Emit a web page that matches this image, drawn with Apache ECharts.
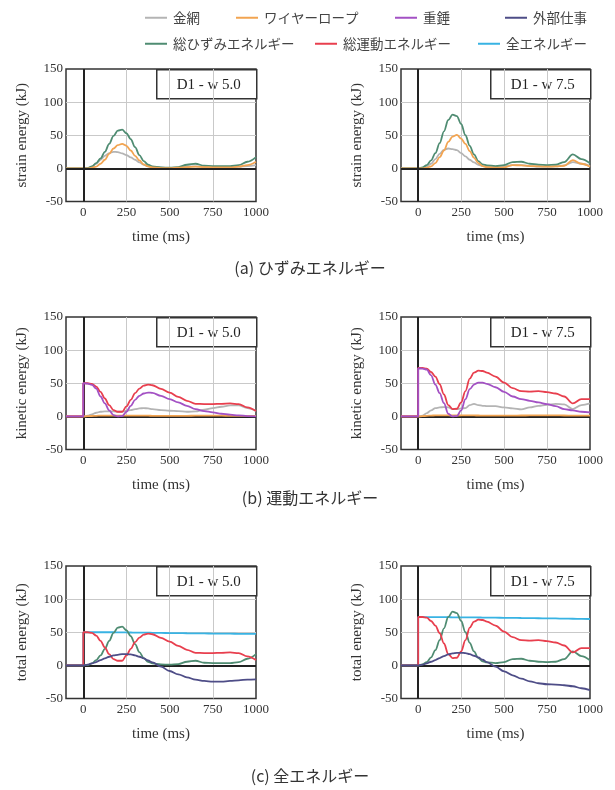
<!DOCTYPE html>
<html>
<head>
<meta charset="utf-8">
<script src="https://cdn.jsdelivr.net/npm/echarts@6/dist/echarts.min.js"></script>
<style>
  html, body { margin: 0; padding: 0; background: #fff; }
  #chart { width: 615px; height: 790px; }
</style>
</head>
<body>
<div id="chart"></div>
<script>
// Sample times (ms); 0 appears twice so the impact jump at t = 0 is vertical
const timeMs = [-100, 0, 0, 25, 50, 75, 100, 125, 150, 175, 200, 225, 250, 275, 300, 325, 350, 375, 400,
                450, 500, 550, 600, 650, 700, 750, 800, 850, 900, 950, 1000];
const xTicks = [0, 250, 500, 750, 1000];
const caseLabels = ['D1 - w 5.0', 'D1 - w 7.5'];
const yAxisNames = ['strain energy (kJ)', 'kinetic energy (kJ)', 'total energy (kJ)'];
const panelCaptions = ['(a) ひずみエネルギー', '(b) 運動エネルギー', '(c) 全エネルギー'];
const seriesNames = ['金網', 'ワイヤーロープ', '重錘', '外部仕事', '総ひずみエネルギー', '総運動エネルギー', '全エネルギー'];

// (a) strain energy (kJ)
const strainMeshW5   = [0, 0, 0, 0.5, 2.5, 7, 13, 19, 23, 25, 24.5, 22.5, 20, 16.5, 13, 9, 5.5, 3, 1.5, 1, 0.5, 1, 3, 3, 2, 1.5, 1.5, 2, 2.5, 3.5, 5];
const strainRopeW5   = [0, 0, 0, 0, 1, 2.5, 7, 13, 22, 30, 35, 37, 34, 27, 19, 12, 6, 3, 1.5, 0.5, 0.3, 1, 2, 2.5, 2, 1.5, 1.5, 1.5, 2.5, 5, 10];
const strainTotalW5  = [0, 0, 0, 0.5, 3, 8, 15, 25, 37, 49, 57, 58.5, 53, 44, 32, 20, 11, 5.5, 3, 1.5, 1, 2, 5.5, 7, 4, 3.5, 3.5, 3.5, 5, 10, 17];
const strainMeshW75  = [0, 0, 0, 0.5, 3, 7, 14, 22, 28, 30, 29, 27.5, 23, 18, 13, 9, 5.5, 3.5, 2.5, 2.5, 3, 5, 5, 3.5, 2.5, 2.5, 3, 4.5, 9.5, 7, 3.5];
const strainRopeW75  = [0, 0, 0, 0, 1, 3, 8, 17, 27, 40, 48, 50.5, 45, 37, 26, 16, 8, 3.5, 2, 1, 1.5, 5, 4.5, 3.5, 3, 2.5, 3, 4, 12.5, 7, 2.5];
const strainTotalW75 = [0, 0, 0, 1.5, 5, 12, 23, 38, 56, 73, 81, 79, 67, 50, 34, 21, 11, 6, 4.5, 3.5, 5, 9.5, 10, 7, 5.5, 5, 5.5, 9.5, 21, 14, 7.5];

// (b) kinetic energy (kJ)
const kinMeshW5    = [0, 0, 0, 1, 3, 5.5, 7, 7.5, 7.5, 7.5, 7, 7, 8.5, 9.5, 11, 12, 12.5, 12, 11, 9.5, 8.5, 8, 7, 7.5, 10, 12.5, 14.5, 16.5, 16.5, 12.5, 8];
const kinRopeW5    = [0, 0, 0, 0.3, 0.6, 0.9, 1.1, 1.2, 1.2, 1.1, 1, 1, 1.1, 1.2, 1.2, 1.1, 1, 1, 0.9, 0.9, 0.8, 0.8, 0.9, 1, 1, 1.1, 1, 0.9, 0.9, 0.8, 0.7];
const kinWeightW5  = [0, 0, 50, 49.5, 47.5, 42, 30, 19.5, 9, 2, 0, 0.5, 7, 16, 25, 31, 34.5, 36, 35.5, 31, 26, 21, 16, 11, 8, 6, 4, 2.5, 1.5, 0.5, 0];
const kinTotalW5   = [0, 0, 50, 50, 49, 45, 37, 27, 17, 9.5, 7, 7, 15, 25, 35, 42, 46.5, 48, 47, 41.5, 36, 29.5, 23.5, 19, 18.5, 18.5, 19, 19.5, 18.5, 13.5, 8];
const kinMeshW75   = [0, 0, 0, 1, 5, 9, 12.5, 13.5, 14, 13.5, 11, 11, 12, 12.5, 17, 19, 17, 16, 15.5, 15.5, 13.5, 12, 10.5, 13.5, 16, 17.5, 19, 18, 11, 17, 19.5];
const kinRopeW75   = [0, 0, 0, 0.3, 0.8, 1.2, 1.5, 1.6, 1.5, 1.4, 1.3, 1.3, 1.4, 1.5, 1.5, 1.4, 1.3, 1.2, 1.2, 1.1, 1.1, 1.2, 1.3, 1.4, 1.5, 1.6, 1.5, 1.3, 1.2, 1.1, 1];
const kinWeightW75 = [0, 0, 72.5, 72, 70.5, 62, 48, 35, 20, 4, 0, 0.5, 9, 26, 41, 48, 51, 51, 49, 44, 37, 30, 26, 23.5, 21, 18.5, 15.5, 11, 9, 7, 6];
const kinTotalW75  = [0, 0, 73, 73, 72, 67, 60, 48.5, 33, 17, 11, 11.5, 21, 38, 57, 66, 69, 68.5, 66, 60, 51, 42.5, 38, 37.5, 38, 36.5, 34.5, 30, 19.5, 26, 26];

// (c) external work and total energy (kJ)
const extWorkW5  = [0, 0, 0, 1, 3, 5, 8, 10.5, 13, 15, 16, 17, 17, 16.5, 15, 13, 10.5, 7.5, 4.5, -2, -8.5, -13.5, -18, -21.5, -23.5, -24.5, -24.5, -23.5, -22.5, -21.5, -21];
const extWorkW75 = [0, 0, 0, 1, 3, 5.5, 8, 11, 14, 16.5, 18, 19, 19, 18.5, 17, 14.5, 12, 8.5, 5, -2, -9, -15, -20, -24, -27, -28.5, -29, -30, -31.5, -34.5, -37.5];
const totalW5    = [0, 0, 50, 50, 50, 50, 50, 50, 50, 50, 49.8, 49.8, 49.7, 49.6, 49.5, 49.5, 49.4, 49.3, 49.2, 49, 48.8, 48.6, 48.5, 48.3, 48.2, 48, 47.9, 47.8, 47.6, 47.5, 47.4];
const totalW75   = [0, 0, 73, 73, 72.9, 72.9, 72.8, 72.8, 72.7, 72.7, 72.6, 72.6, 72.5, 72.5, 72.4, 72.4, 72.3, 72.2, 72.1, 72, 71.8, 71.6, 71.5, 71.3, 71.1, 71, 70.8, 70.6, 70.4, 70.2, 70];

const lineColors = {
  '金網': '#b4b4b4',
  'ワイヤーロープ': '#f2a451',
  '重錘': '#a351c4',
  '外部仕事': '#4e4d87',
  '総ひずみエネルギー': '#4f8c72',
  '総運動エネルギー': '#e83f4e',
  '全エネルギー': '#38b3e3'
};

// panel layout: row = energy kind, col = load case; later lines draw on top
const panels = [
  { row: 0, col: 0, lines: [['金網', strainMeshW5], ['総ひずみエネルギー', strainTotalW5], ['ワイヤーロープ', strainRopeW5]] },
  { row: 0, col: 1, lines: [['金網', strainMeshW75], ['総ひずみエネルギー', strainTotalW75], ['ワイヤーロープ', strainRopeW75]] },
  { row: 1, col: 0, lines: [['金網', kinMeshW5], ['ワイヤーロープ', kinRopeW5], ['総運動エネルギー', kinTotalW5], ['重錘', kinWeightW5]] },
  { row: 1, col: 1, lines: [['金網', kinMeshW75], ['ワイヤーロープ', kinRopeW75], ['総運動エネルギー', kinTotalW75], ['重錘', kinWeightW75]] },
  { row: 2, col: 0, lines: [['全エネルギー', totalW5], ['総ひずみエネルギー', strainTotalW5], ['総運動エネルギー', kinTotalW5], ['外部仕事', extWorkW5]] },
  { row: 2, col: 1, lines: [['全エネルギー', totalW75], ['総ひずみエネルギー', strainTotalW75], ['総運動エネルギー', kinTotalW75], ['外部仕事', extWorkW75]] }
];

const cols = [{ left: 66, width: 190 }, { left: 401, width: 189 }];
const rowTops = [69, 317, 566];
const plotH = 132.5;
const serif = '"Liberation Serif", "DejaVu Serif", serif';
const jp = '"Noto Sans CJK JP", sans-serif';

const grid = [], xAxis = [], yAxis = [], series = [], graphic = [];

panels.forEach((p, gi) => {
  const c = cols[p.col];
  grid.push({
    left: c.left, top: rowTops[p.row], width: c.width, height: plotH,
    show: true, borderColor: '#333', borderWidth: 1.5, backgroundColor: 'transparent'
  });
  xAxis.push({
    gridIndex: gi, type: 'value', min: -100, max: 1000,
    name: 'time (ms)', nameLocation: 'middle', nameGap: 28,
    nameTextStyle: { fontFamily: serif, fontSize: 15, color: '#333' },
    axisLine: { show: false },
    axisTick: { show: false, customValues: xTicks },
    axisLabel: { customValues: xTicks, formatter: v => String(v), fontFamily: serif, fontSize: 13, color: '#333', margin: 5 },
    splitLine: { show: true, showMinLine: false, showMaxLine: false, lineStyle: { color: '#c9c9c9', width: 1 } }
  });
  yAxis.push({
    gridIndex: gi, type: 'value', min: -50, max: 150, interval: 50,
    name: yAxisNames[p.row], nameLocation: 'middle', nameGap: 36, nameRotate: 90,
    nameTextStyle: { fontFamily: serif, fontSize: 15, color: '#333' },
    axisLine: { show: false },
    axisTick: { show: false },
    axisLabel: { formatter: v => String(v), fontFamily: serif, fontSize: 13, color: '#333', margin: 3 },
    splitLine: { show: true, showMinLine: false, showMaxLine: false, lineStyle: { color: '#c9c9c9', width: 1 } }
  });
  p.lines.forEach(([name, vals], li) => {
    const s = {
      name, type: 'line', xAxisIndex: gi, yAxisIndex: gi,
      data: timeMs.map((t, i) => [t, vals[i]]),
      showSymbol: false, symbol: 'none', smooth: 0.35, smoothMonotone: 'x',
      color: lineColors[name],
      lineStyle: { color: lineColors[name], width: 1.8 },
      z: 3,
      animation: false
    };
    if (li === 0) {
      // dark reference lines at t = 0 and E = 0 (under the curves except in the strain plots)
      s.markLine = {
        silent: true, symbol: 'none', animation: false,
        z: p.row === 0 ? 5 : 1,
        label: { show: false },
        lineStyle: { color: '#222', width: 2, type: 'solid' },
        data: [{ xAxis: 0 }, { yAxis: 0 }]
      };
    }
    series.push(s);
  });
  // case label box in the top-right corner of each plot
  graphic.push({
    type: 'group', left: c.left + c.width - 100, top: rowTops[p.row], z: 100,
    children: [
      { type: 'rect', shape: { x: 0, y: 0, width: 100, height: 29 },
        style: { fill: '#fff', stroke: '#333', lineWidth: 1.5 } },
      { type: 'text', x: 52, y: 15,
        style: { text: caseLabels[p.col], font: '15px ' + serif, fill: '#222', align: 'center', verticalAlign: 'middle' } }
    ]
  });
});

const captionY = [268, 498, 776];
panelCaptions.forEach((txt, i) => {
  graphic.push({
    type: 'text', x: 310, y: captionY[i], z: 100,
    style: { text: txt, font: '16px ' + jp, fill: '#333', align: 'center', verticalAlign: 'middle' }
  });
});

// two-row legend, one slot per item
const legendSlots = [
  [seriesNames[0], 140, 6], [seriesNames[1], 231, 6], [seriesNames[2], 390, 6], [seriesNames[3], 500, 6],
  [seriesNames[4], 140, 32], [seriesNames[5], 310, 32], [seriesNames[6], 473, 32]
];
const legend = legendSlots.map(([name, left, top]) => ({
  data: [name], left, top, orient: 'horizontal',
  icon: 'rect', itemWidth: 22, itemHeight: 2, itemGap: 0,
  selectedMode: false,
  textStyle: { fontFamily: jp, fontSize: 13.5, color: '#444', padding: [0, 0, 0, 1] }
}));

const chart = echarts.init(document.getElementById('chart'), null, { renderer: 'canvas' });
chart.setOption({
  backgroundColor: '#fff',
  animation: false,
  legend, grid, xAxis, yAxis, series, graphic
});
</script>
</body>
</html>
